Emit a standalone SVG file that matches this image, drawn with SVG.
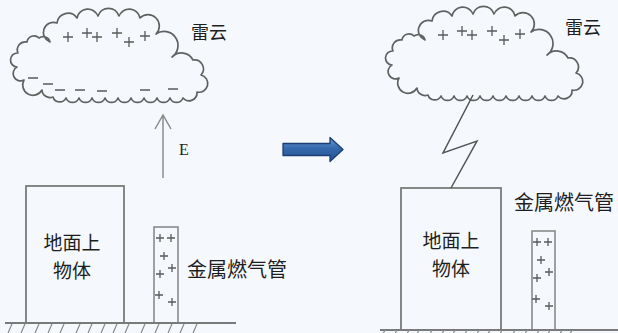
<svg xmlns="http://www.w3.org/2000/svg" xmlns:xlink="http://www.w3.org/1999/xlink" width="618" height="333" viewBox="0 0 618 333">
  <style>
    .bg { fill: #f5f9fd; }
    .cloud { fill: none; stroke: #616161; stroke-width: 1.7; stroke-linejoin: round; }
    .mark { stroke: #5a5a5a; stroke-width: 1.3; fill: none; }
    .box { fill: none; stroke: #7a7a7a; stroke-width: 1.8; }
    .pipe { fill: none; stroke: #8a8a8a; stroke-width: 1.6; }
    .ground { stroke: #7a7a7a; stroke-width: 1.8; fill: none; }
    .hatch { stroke: #8a8a8a; stroke-width: 1.2; fill: none; }
    .wire { stroke: #8c8c8c; stroke-width: 1.5; fill: none; }
    .bolt { stroke: #555; stroke-width: 1.5; fill: none; stroke-linejoin: miter; }
    .cjk { font-family: "Noto Sans CJK SC", "Noto Sans", sans-serif; fill: #1e1e1e; }
    .latin { font-family: "Liberation Serif", serif; fill: #1e1e1e; font-size: 16px; }
  </style>
  <defs>
    <linearGradient id="blueFill" x1="0" y1="0" x2="0" y2="1">
      <stop offset="0" stop-color="#6b9ad6"/>
      <stop offset="0.45" stop-color="#3569ad"/>
      <stop offset="1" stop-color="#214f8e"/>
    </linearGradient>
    <!-- scalloped thundercloud outline -->
    <path id="cloudShape" class="cloud" d="M 50 42
      A 9 9 0 0 1 57 23
      A 11 11 0 0 1 77 18
      A 11 11 0 0 1 98 16
      A 11 11 0 0 1 119 16
      A 11 11 0 0 1 140 18
      A 10 10 0 0 1 156 34
      A 12 12 0 0 1 172 57
      A 13 13 0 0 1 193 60
      A 9 9 0 0 1 201 75
      A 8 8 0 0 1 197 92
      A 8 8 0 0 1 183 98
      A 7 7 0 0 1 170 98
      A 7 7 0 0 1 157 98
      A 7 7 0 0 1 144 98
      A 7 7 0 0 1 131 98
      A 7 7 0 0 1 118 98
      A 7 7 0 0 1 105 98
      A 7 7 0 0 1 92 98
      A 7 7 0 0 1 79 98
      A 7 7 0 0 1 66 98
      A 7 7 0 0 1 53 97
      A 8 8 0 0 1 42 90
      A 10 10 0 0 1 24 80
      A 7 7 0 0 1 17 67
      A 7 7 0 0 1 18 53
      A 8 8 0 0 1 27 42
      A 7 7 0 0 1 39 38
      A 7 7 0 0 1 50 42 Z"/>
    <!-- positive charges in the upper cloud -->
    <g id="cloudPlus" class="mark">
      <path d="M63 37h10M68 32v10"/>
      <path d="M82 33h10M87 28v10"/>
      <path d="M92 37h10M97 32v10"/>
      <path d="M112 33h10M117 28v10"/>
      <path d="M124 42h10M129 37v10"/>
      <path d="M140 36h10M145 31v10"/>
    </g>
    <!-- induced charges in the tall pipe -->
    <g id="pipePlus" class="mark">
      <path d="M2 11h8M6 7v8"/>
      <path d="M13 11h8M17 7v8"/>
      <path d="M6 29h8M10 25v8"/>
      <path d="M14 41h8M18 37v8"/>
      <path d="M2 47h8M6 43v8"/>
      <path d="M1 68h8M5 64v8"/>
      <path d="M14 75h8M18 71v8"/>
    </g>
  </defs>

  <rect class="bg" x="0" y="0" width="618" height="333"/>

  <!-- left scene: before the strike -->
  <g id="cloud-left">
    <use xlink:href="#cloudShape"/>
    <use xlink:href="#cloudPlus"/>
    <g class="mark">
      <path d="M28 78h10M43 84h10M55 90h10M75 90h10M97 91h10M140 90h10M168 89h10"/>
    </g>
    <text class="cjk" x="191" y="39" font-size="18">雷云</text>
  </g>

  <g id="building-left">
    <rect class="box" x="26" y="186" width="98" height="137"/>
    <text class="cjk" x="72" y="250" font-size="19" text-anchor="middle">地面上</text>
    <text class="cjk" x="72" y="278" font-size="19" text-anchor="middle">物体</text>
  </g>

  <g id="pipe-left">
    <rect class="pipe" x="154" y="227" width="24" height="96"/>
    <use xlink:href="#pipePlus" transform="translate(154,227)"/>
    <text class="cjk" x="187" y="277" font-size="20">金属燃气管</text>
  </g>

  <g id="ground-left">
    <path class="ground" d="M5 323H236"/>
    <path class="hatch" d="M8 333l4-9M21 333l4-9M35 333l4-9M48 333l4-9M60 333l4-9M76 333l4-9M88 333l4-9M101 333l4-9M113 333l4-9M125 333l4-9M141 333l4-9M155 333l4-9M168 333l4-9M180 333l4-9M193 333l4-9"/>
  </g>

  <!-- right scene: after the strike -->
  <g id="cloud-right" transform="translate(375,-2)">
    <use xlink:href="#cloudShape"/>
    <use xlink:href="#cloudPlus"/>
    <text class="cjk" x="190" y="36" font-size="18">雷云</text>
  </g>

  <g id="building-right">
    <rect class="box" x="401" y="188" width="100" height="142"/>
    <text class="cjk" x="451" y="248" font-size="19" text-anchor="middle">地面上</text>
    <text class="cjk" x="451" y="276" font-size="19" text-anchor="middle">物体</text>
  </g>

  <g id="pipe-right">
    <rect class="pipe" x="532" y="231" width="23" height="99"/>
    <use xlink:href="#pipePlus" transform="translate(531,231)"/>
    <text class="cjk" x="514" y="210" font-size="20">金属燃气管</text>
  </g>

  <g id="ground-right">
    <path class="ground" d="M380 330H618"/>
    <path class="hatch" d="M381 338l4-8M393 338l4-8M405 338l4-8M415 338l4-8M428 338l4-8M440 338l4-8M451 338l4-8M463 338l4-8M475 338l4-8M486 338l4-8M498 338l4-8M511 338l4-8M523 338l4-8M535 338l4-8M546 338l4-8M558 338l4-8M568 338l4-8"/>
  </g>

  <!-- connectors -->
  <g id="connectors">
    <!-- field direction E -->
    <path class="wire" d="M163 178V116M155 129L163 115L171 129"/>
    <text class="latin" x="179" y="155">E</text>
    <!-- lightning discharge from cloud to the building -->
    <path class="bolt" d="M473 95L443 153L477 141L451 188"/>
    <!-- transition arrow -->
    <path d="M283 143.5H330V137.5L343 149.5L330 161.5V155.5H283Z" fill="url(#blueFill)" stroke="#1b3f73" stroke-width="1.3" stroke-linejoin="round"/>
  </g>
</svg>
